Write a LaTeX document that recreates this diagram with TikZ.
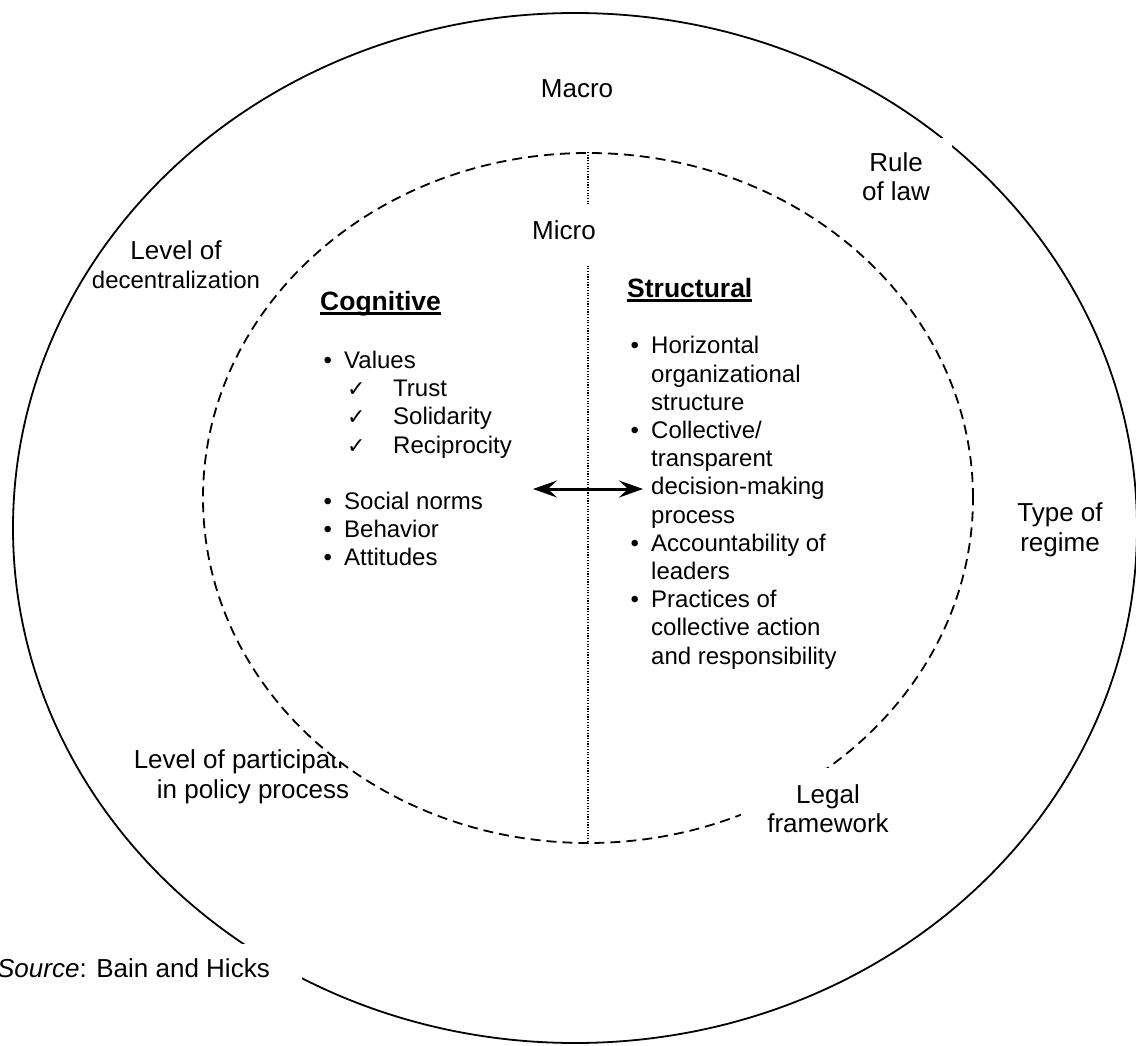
\documentclass[tikz,border=0pt]{standalone}
\usepackage{fontspec}
\setmainfont{Liberation Sans}
\newfontfamily\symfont{DejaVu Sans}
\usetikzlibrary{shapes.geometric, arrows.meta}

\newcommand{\headline}[1]{\setbox0\hbox{\bfseries #1}\rlap{\rule[-4.5pt]{\wd0}{2.6pt}}\box0}
\newcommand{\chk}{\hspace*{3pt}\makebox[46pt][l]{\symfont\fontsize{22}{28}\selectfont ✓}}
\newcommand{\bul}{\makebox[20.5pt][l]{\textbullet}}

\begin{document}
\begin{tikzpicture}[x=1pt, y=-1pt,
    ring/.style={ellipse, draw, line width=1.8pt, inner sep=0pt},
    ringtag/.style={font=\fontsize{26}{29.5}\selectfont, align=center, inner sep=0pt},
    cover/.style={ringtag, fill=white, inner xsep=22pt, inner ysep=14pt},
    items/.style={font=\fontsize{24}{28.2}\selectfont, anchor=north west, inner sep=0pt},
    heading/.style={font=\fontsize{26.5}{30}\selectfont, anchor=base west, inner sep=0pt},
    twoway/.style={line width=3pt, {Stealth[length=24pt, width=17pt, inset=9pt]}-{Stealth[length=24pt, width=17pt, inset=9pt]}}]
    \useasboundingbox (0,0) rectangle (1136,1046);

    % Macro level
    \node[ring, minimum width=1124pt, minimum height=1030pt] (macro) at (575,528) {};
    \node[ringtag] (partic) at (253,777) {Level of participation\\in policy process};

    % Micro level (covers the text behind it)
    \node[ring, fill=white, dash pattern=on 10pt off 6pt, minimum width=770pt, minimum height=690pt] (micro) at (588,498) {};
    \draw[line width=1.1pt, dash pattern=on 1.2pt off 1.5pt] (micro.north) -- (micro.south);

    % Level names
    \node[cover, anchor=base, inner ysep=17pt, text depth=8pt] (microtag) at (564,240) {Micro};
    \node[ringtag, anchor=base] (macrotag) at (577,98) {Macro};

    % Macro factors
    \node[cover] (law) at (896,176.5) {Rule\\of law};
    \node[ringtag] (regime) at (1060,530) {Type of\\regime};
    \node[cover, inner xsep=26pt, inner ysep=16pt] (legal) at (828,808.5) {Legal\\framework};
    \node[ringtag] (decentr) at (176,264.5) {Level of\\\fontsize{24}{28}\selectfont decentralization};
    \node[cover, anchor=base east, inner xsep=32pt] (source) at (302,977) {\textit{Source}: Bain and Hicks};

    % Cognitive side
    \node[heading] (cog) at (320,310) {\headline{Cognitive}};
    \node[items] (coglist) at (323.5,348.5) {\begin{tabular}{@{}l@{}l@{}}
        \bul & Values\\
        & \chk Trust\\
        & \chk Solidarity\\
        & \chk Reciprocity\\
        & \\
        \bul & Social norms\\
        \bul & Behavior\\
        \bul & Attitudes
    \end{tabular}};

    % Structural side
    \node[heading] (str) at (627,297) {\headline{Structural}};
    \node[items] (strlist) at (630.5,334) {\begin{tabular}{@{}l@{}l@{}}
        \bul & Horizontal\\
        & organizational\\
        & structure\\
        \bul & Collective/\\
        & transparent\\
        & decision-making\\
        & process\\
        \bul & Accountability of\\
        & leaders\\
        \bul & Practices of\\
        & collective action\\
        & and responsibility
    \end{tabular}};

    % Link between the two sides
    \coordinate (cogend) at (533,489);
    \coordinate (strend) at (643,489);
    \draw[twoway] (cogend) -- (strend);
\end{tikzpicture}
\end{document}
